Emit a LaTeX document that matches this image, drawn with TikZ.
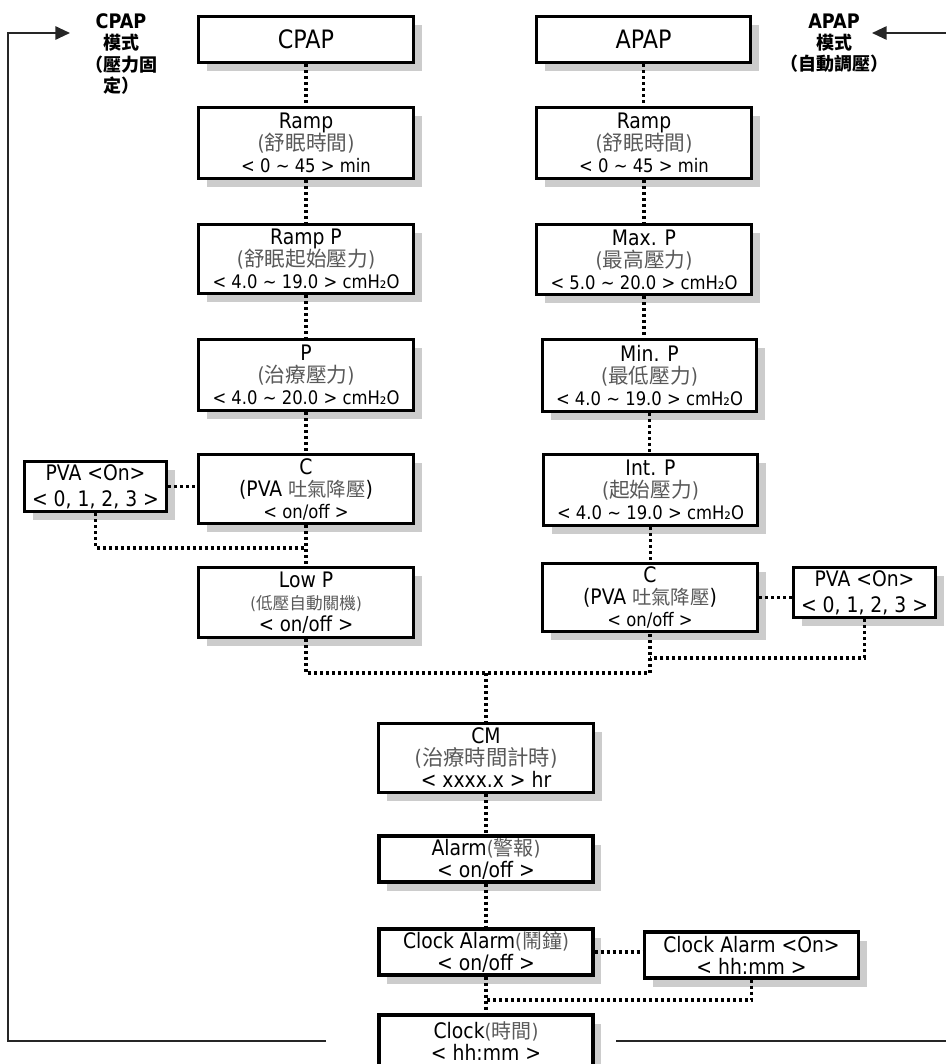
\documentclass[tikz,border=0pt]{standalone}
\usepackage{fontspec}
\setmainfont{DejaVu Sans}[FakeStretch=0.88]
\newfontfamily\cjk{Noto Sans CJK TC}
\usetikzlibrary{arrows.meta,shadows,calc}
\definecolor{zhgray}{gray}{0.35}
\definecolor{shadowgray}{gray}{0.8}
\newcommand\zh[1]{{\cjk\color{zhgray}#1}}
\newcommand\zhp[1]{{\color{zhgray}(\zh{#1})}}
\newcommand\zhs[2]{{\fontsize{#1}{16.5}\selectfont\zhp{#2}}}
\newcommand\rng[1]{{\fontsize{14}{16.5}\selectfont #1}}
\newcommand\tld{\textasciitilde{}}
\begin{document}
\begin{tikzpicture}[x=0.75pt,y=-0.75pt,
  box/.style={draw=black, line width=2.3pt, fill=white, align=center, inner sep=1pt,
     drop shadow={shadow xshift=6pt, shadow yshift=-6.5pt, fill=shadowgray, opacity=1},
     font=\fontsize{16}{16.5}\selectfont},
  wide/.style={minimum width=161.25pt},
  std/.style={minimum width=160.5pt},
  pva/.style={minimum width=106.5pt, minimum height=37.5pt, font=\fontsize{16}{19.5}\selectfont},
  topbox/.style={minimum height=34.5pt, font=\fontsize{19}{20}\selectfont},
  dots/.style={line width=2.5pt, dash pattern=on 2.4pt off 2.1pt},
  loopline/.style={line width=1.4pt, draw=black!85},
  tip/.style={-{Triangle[length=11pt,width=10pt]}},
  hdr/.style={align=center, inner sep=0pt, font=\fontsize{15}{16}\selectfont\bfseries},
]
\useasboundingbox (0,0) rectangle (946,1064);

% left column
\node[box,wide,topbox] (cpap) at (306,39.5) {CPAP};
\node[box,wide,minimum height=53.25pt] (rampL) at (306,143) {Ramp\\\zhs{15.5}{舒眠時間}\\\rng{< 0 \tld{} 45 > min}};
\node[box,wide,minimum height=51.75pt] (rampPL) at (306,259) {Ramp P\\\zhs{15.5}{舒眠起始壓力}\\\rng{< 4.0 \tld{} 19.0 > cmH₂O}};
\node[box,wide,minimum height=53.25pt] (pL) at (306,375) {P\\\zhs{15.5}{治療壓力}\\\rng{< 4.0 \tld{} 20.0 > cmH₂O}};
\node[box,wide,minimum height=51.75pt] (cL) at (306,489) {C\\(PVA {\fontsize{14.5}{16.5}\selectfont\zh{吐氣降壓}})\\\rng{< on/off >}};
\node[box,wide,minimum height=52.5pt] (lowP) at (306,602.5) {Low P\\\zhs{12.5}{低壓自動關機}\\{\fontsize{15.5}{16.5}\selectfont < on/off >}};
\node[box,pva] (pvaL) at (95.5,486.5) {PVA <On>\\< 0, 1, 2, 3 >};

% right column
\node[box,std,topbox] (apap) at (643.5,39.5) {APAP};
\node[box,wide,minimum height=53.25pt] (rampR) at (644,143) {Ramp\\\zhs{15.5}{舒眠時間}\\\rng{< 0 \tld{} 45 > min}};
\node[box,wide,minimum height=52.5pt] (maxP) at (644,259.5) {Max. P\\\zhs{15.5}{最高壓力}\\\rng{< 5.0 \tld{} 20.0 > cmH₂O}};
\node[box,std,minimum height=54pt] (minP) at (649.5,375.5) {Min. P\\\zhs{15.5}{最低壓力}\\\rng{< 4.0 \tld{} 19.0 > cmH₂O}};
\node[box,std,minimum height=53.25pt] (intP) at (650.5,490) {Int. P\\\zhs{15.5}{起始壓力}\\\rng{< 4.0 \tld{} 19.0 > cmH₂O}};
\node[box,wide,minimum height=51pt] (cR) at (650,597.5) {C\\(PVA {\fontsize{14.5}{16.5}\selectfont\zh{吐氣降壓}})\\\rng{< on/off >}};
\node[box,pva] (pvaR) at (864.5,592.5) {PVA <On>\\< 0, 1, 2, 3 >};

% centre column
\node[box,wide,minimum height=51.75pt] (cm) at (486,758) {CM\\\zhs{16}{治療時間計時}\\< xxxx.x > hr};
\node[box,std,minimum height=34.5pt] (alarm) at (486,859) {Alarm\zhs{15}{警報}\\< on/off >};
\node[box,std,minimum height=34.5pt] (clka) at (486,952) {Clock Alarm\zhs{15}{鬧鐘}\\< on/off >};
\node[box,std,minimum height=34.5pt] (clkon) at (751.5,955) {Clock Alarm <On>\\< hh:mm >};
\node[box,std,minimum height=39pt] (clock) at (486,1041) {Clock\zhs{15}{時間}\\< hh:mm >};

% mode labels
\node[hdr] (lblL) at (121,54) {CPAP\\{\cjk\fontsize{13.5}{16}\selectfont 模式}\\{\cjk\fontsize{13.5}{16}\selectfont （壓力固}\\{\cjk\fontsize{13.5}{16}\selectfont 定）}};
\node[hdr] (lblR) at (834,43) {APAP\\{\cjk\fontsize{13.5}{16}\selectfont 模式}\\{\cjk\fontsize{13.5}{16}\selectfont （自動調壓）}};

% dotted connectors
\draw[dots] (cpap.south) -- (cpap.south |- rampL.north);
\draw[dots] (rampL.south) -- (rampL.south |- rampPL.north);
\draw[dots] (rampPL.south) -- (rampPL.south |- pL.north);
\draw[dots] (pL.south) -- (pL.south |- cL.north);
\draw[dots] (cL.south) -- (cL.south |- lowP.north);
\draw[dots] (pvaL.east) -- (pvaL.east -| cL.west);
\coordinate (jL) at (306,548);
\draw[dots] (pvaL.south) |- (jL);

\draw[dots] (apap.south) -- (apap.south |- rampR.north);
\draw[dots] (rampR.south) -- (rampR.south |- maxP.north);
\draw[dots] (maxP.south) -- (maxP.south |- minP.north);
\draw[dots] (minP.south) -- (minP.south |- intP.north);
\draw[dots] (intP.south) -- (intP.south |- cR.north);
\draw[dots] (cR.east) -- (cR.east -| pvaR.west);
\coordinate (jR) at (650,658);
\draw[dots] (pvaR.south) |- (jR);

\coordinate (jM) at (486,673);
\draw[dots] (lowP.south) |- (jM) -| (cR.south);
\draw[dots] (jM) -- (cm.north);
\draw[dots] (cm.south) -- (alarm.north);
\draw[dots] (alarm.south) -- (clka.north);
\draw[dots] (clka.south) -- (clock.north);
\draw[dots] (clka.east) -- (clka.east -| clkon.west);
\coordinate (jB) at (486,1000);
\draw[dots] (clkon.south) |- (jB);

% loop lines
\coordinate (loopL) at (326,1041);
\coordinate (cornerBL) at (8,1041);
\coordinate (cornerTL) at (8,33);
\coordinate (tipL) at (70,33);
\coordinate (loopR) at (616,1041);
\coordinate (edgeB) at (946,1041);
\coordinate (edgeT) at (946,33);
\coordinate (tipR) at (872,33);
\draw[loopline,tip] (loopL) -- (cornerBL) -- (cornerTL) -- (tipL);
\draw[loopline] (loopR) -- (edgeB);
\draw[loopline,tip] (edgeT) -- (tipR);
\end{tikzpicture}
\end{document}
